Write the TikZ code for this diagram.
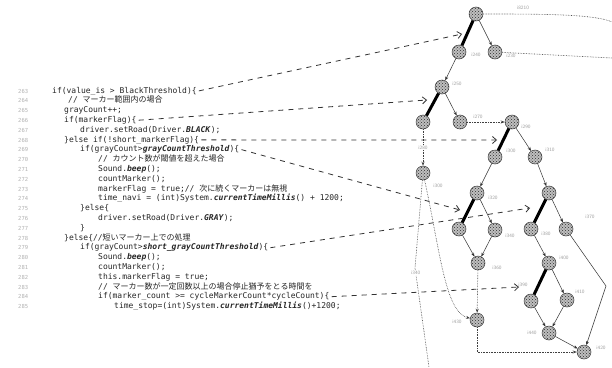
\documentclass[tikz,border=0pt]{standalone}
\usepackage{fontspec}
\setmainfont{DejaVu Sans}
\setmonofont{DejaVu Sans Mono}
\newfontfamily\cjk{Noto Sans CJK JP}
\usetikzlibrary{arrows.meta,patterns}
\newcommand{\kw}[1]{\textbf{\textit{#1}}}
\begin{document}
\begin{tikzpicture}[x=1pt,y=-1pt,
  code/.style={anchor=base west, inner sep=0pt, font=\ttfamily\fontsize{8}{9}\selectfont, text=black!85},
  lnum/.style={anchor=base west, inner sep=0pt, font=\ttfamily\fontsize{5.5}{6}\selectfont, text=gray!60},
  st/.style={circle, minimum size=14pt, inner sep=0pt, preaction={fill=gray!50}, pattern=crosshatch dots, pattern color=gray!35!black, draw=gray!45!black, line width=0.5pt},
  lbl/.style={font=\sffamily\fontsize{5}{5}\selectfont, text=gray!75, inner sep=0.5pt},
  hot/.style={line width=3pt, black},
  tr/.style={-{Stealth[length=4pt,width=3pt]}, line width=0.5pt, gray!40!black},
  dotl/.style={densely dotted, line width=0.6pt, gray!50!black},
  dota/.style={dotl, -{Stealth[length=4pt,width=3pt]}},
  ptr/.style={-{Straight Barb[length=4pt,width=7pt]}, dash pattern=on 5pt off 5pt, line width=0.8pt, black!80}]
\useasboundingbox (0,0) rectangle (612,367);
\fill[white] (0,0) rectangle (612,367);

% line numbers
\foreach \n [count=\k from 0] in {263,264,265,266,267,268,269,270,271,272,273,274,275,276,277,278,279,280,281,282,283,284,285}
  \node[lnum] (ln\n) at (18,{93+\k*9.8}) {\n};

% code
\node[code] (l1)  at (52,93)    {if(value\_is > BlackThreshold)\{};
\node[code] (l2)  at (68,102.8) {// {\cjk マーカー範囲内の場合}};
\node[code] (l3)  at (64,112.6) {grayCount++;};
\node[code] (l4)  at (64,122.4) {if(markerFlag)\{};
\node[code] (l5)  at (80,132.2) {driver.setRoad(Driver.\kw{BLACK});};
\node[code] (l6)  at (64,142)   {\}else if(!short\_markerFlag)\{};
\node[code] (l7)  at (80,151.8) {if(grayCount>\kw{grayCountThreshold})\{};
\node[code] (l8)  at (98,161.6) {// {\cjk カウント数が閾値を超えた場合}};
\node[code] (l9)  at (98,171.4) {Sound.\kw{beep}();};
\node[code] (l10) at (98,181.2) {countMarker();};
\node[code] (l11) at (98,191)   {markerFlag = true;// {\cjk 次に続くマーカーは無視}};
\node[code] (l12) at (98,200.8) {time\_navi = (int)System.\kw{currentTimeMillis}() + 1200;};
\node[code] (l13) at (80,210.6) {\}else\{};
\node[code] (l14) at (98,220.4) {driver.setRoad(Driver.\kw{GRAY});};
\node[code] (l15) at (80,230.2) {\}};
\node[code] (l16) at (64,240)   {\}else\{//{\cjk 短いマーカー上での処理}};
\node[code] (l17) at (80,249.8) {if(grayCount>\kw{short\_grayCountThreshold})\{};
\node[code] (l18) at (98,259.6) {Sound.\kw{beep}();};
\node[code] (l19) at (98,269.4) {countMarker();};
\node[code] (l20) at (98,279.2) {this.markerFlag = true;};
\node[code] (l21) at (98,289)   {// {\cjk マーカー数が一定回数以上の場合停止猶予をとる時間を}};
\node[code] (l22) at (98,298.8) {if(marker\_count >= cycleMarkerCount*cycleCount)\{};
\node[code] (l23) at (114,308.6){time\_stop=(int)System.\kw{currentTimeMillis}()+1200;};

% tree nodes
\node[st] (A) at (476,14) {};
\node[st] (B) at (459,52) {};
\node[st] (C) at (495,52) {};
\node[st] (D) at (442,87) {};
\node[st] (E) at (423,122) {};
\node[st] (F) at (460,122) {};
\node[st] (G) at (512,122) {};
\node[st] (H) at (423,173) {};
\node[st] (I) at (495,157) {};
\node[st] (J) at (535,157) {};
\node[st] (K) at (477,193) {};
\node[st] (L) at (549,193) {};
\node[st] (M) at (459,229) {};
\node[st] (N) at (495,230) {};
\node[st] (O) at (478,263) {};
\node[st] (P) at (531,229) {};
\node[st] (Q) at (566,229) {};
\node[st] (R) at (549,263) {};
\node[st] (S) at (531,301) {};
\node[st] (T) at (567,300) {};
\node[st] (U) at (549,333) {};
\node[st] (V) at (584,352) {};
\node[st] (W) at (477,320) {};

% labels
\node[lbl] at (523,8) {i8210};
\node[lbl] at (476,55) {i240};
\node[lbl] at (511,56) {i230};
\node[lbl] at (457,84) {i250};
\node[lbl] at (478,117) {i270};
\node[lbl] at (526,127) {i290};
\node[lbl] at (438,186) {i300};
\node[lbl] at (511,151) {i300};
\node[lbl] at (550,150) {i310};
\node[lbl] at (493,198) {i320};
\node[lbl] at (510,236) {i340};
\node[lbl] at (497,268) {i360};
\node[lbl] at (546,234) {i380};
\node[lbl] at (590,217) {i370};
\node[lbl] at (564,258) {i400};
\node[lbl] at (523,285) {i390};
\node[lbl] at (580,292) {i410};
\node[lbl] at (532,333) {i440};
\node[lbl] at (601,348) {i420};
\node[lbl] at (457,322) {i430};

% tree edges
\draw[hot] (A) -- (B);
\draw[tr] (A) -- (C);
\draw[tr] (B) -- (D);
\draw[hot] (D) -- (E);
\draw[tr] (D) -- (F);
\draw[dota] (F) -- (G);
\draw[dota] (E) -- node[lbl, fill=white] {i280} (H);
\draw[hot] (G) -- (I);
\draw[tr] (G) -- (J);
\draw[tr] (I) -- (K);
\draw[tr] (J) -- (L);
\draw[hot] (K) -- (M);
\draw[tr] (K) -- (N);
\draw[tr] (M) -- (O);
\draw[tr] (N) -- (O);
\draw[hot] (L) -- (P);
\draw[tr] (L) -- (Q);
\draw[tr] (P) -- (R);
\draw[hot] (R) -- (S);
\draw[tr] (R) -- (T);
\draw[tr] (S) -- (U);
\draw[tr] (T) -- (U);
\draw[tr] (U) -- (V);
\coordinate (qv) at (606,286);
\draw[tr] (Q) -- (qv) -- (V);
\draw[dota] (O) -- (W);
\draw[dota] (W) |- (V);
\coordinate (ar) at (612,22);
\coordinate (cr) at (612,58);
\draw[dotl] (A) .. controls (540,14) and (595,14) .. (ar);
\draw[dotl] (C) -- (cr);
\coordinate (hb) at (429,367);
\coordinate (hm) at (415,268);
\draw[dotl] (H) -- (hm) -- node[pos=0.05, lbl, fill=white] {i340} (hb);
\draw[dota] (H) .. controls (440,250) and (445,312) .. (W);

% pointer arrows
\coordinate (p1) at (462,34);
\coordinate (p2) at (427,100);
\coordinate (p3) at (497,140);
\coordinate (p4) at (460,210);
\coordinate (p5) at (530,208);
\coordinate (p6) at (519,287);
\draw[ptr] ([xshift=2pt]l1.east) -- (p1);
\draw[ptr] ([xshift=2pt]l4.east) -- (p2);
\draw[ptr] ([xshift=2pt]l6.east) -- (p3);
\draw[ptr] ([xshift=2pt]l7.east) -- (p4);
\draw[ptr] ([xshift=2pt]l17.east) -- (p5);
\draw[ptr] ([xshift=2pt]l22.east) -- (p6);
\end{tikzpicture}
\end{document}
